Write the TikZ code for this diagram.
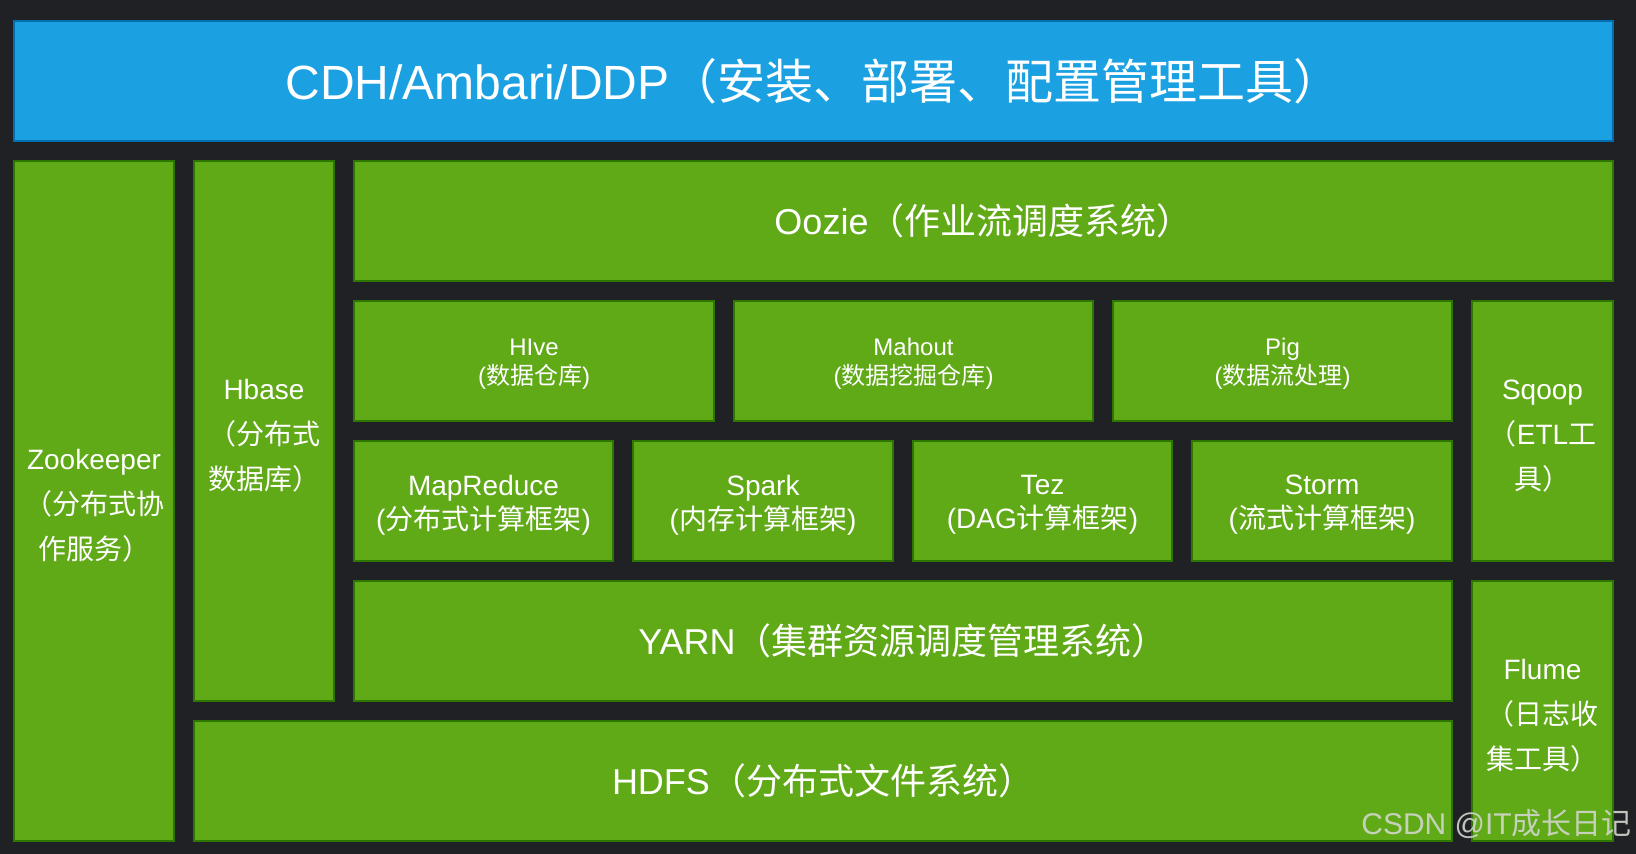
\documentclass[tikz,border=0pt]{standalone}
\usepackage{fontspec}
\setmainfont{Liberation Sans}
\newfontfamily\cjk{Noto Sans CJK SC}
\definecolor{bg}{HTML}{202124}
\definecolor{gfill}{HTML}{60A917}
\definecolor{gline}{HTML}{2D7600}
\definecolor{bfill}{HTML}{1BA1E2}
\definecolor{bline}{HTML}{006EAF}
\definecolor{wmark}{HTML}{D2D6CC}
\begin{document}
\begin{tikzpicture}[x=1pt,y=-1pt,
  blk/.style={draw=gline, fill=gfill, line width=2pt, text=white, inner sep=0pt, align=center},
  topblk/.style={blk, draw=bline, fill=bfill},
  txt/.style={text=white, inner sep=0pt, align=center},
  bigtxt/.style={font=\fontsize{36}{43}\selectfont},
  talltxt/.style={txt, font=\fontsize{28}{45}\selectfont},
  midtxt/.style={txt, font=\fontsize{28}{34}\selectfont},
  smalltxt/.style={txt, font=\fontsize{24}{29}\selectfont}]
\useasboundingbox (0,0) rectangle (1636,854);
\fill[bg] (0,0) rectangle (1636,854);

\node[topblk, font=\fontsize{48}{56}\selectfont, minimum width=1599pt, minimum height=120pt] (top) at (813.5,81)
  {CDH/Ambari/DDP{\cjk （安装、部署、配置管理工具）}};

\node[blk, minimum width=160pt, minimum height=680pt] (zk) at (94,501) {};
\node[talltxt] (zkt) at ([yshift=-5pt]zk.center)
  {Zookeeper\\{\cjk （分布式协}\\{\cjk 作服务）}};
\node[blk, minimum width=140pt, minimum height=540pt] (hb) at (264,431) {};
\node[talltxt] (hbt) at ([yshift=-5pt]hb.center)
  {Hbase\\{\cjk （分布式}\\{\cjk 数据库）}};
\node[blk, bigtxt, minimum width=1259pt, minimum height=120pt] (oozie) at (983.5,221)
  {Oozie{\cjk （作业流调度系统）}};

\node[blk, minimum width=360pt, minimum height=120pt] (hive) at (534,361) {};
\node[smalltxt] (hivet) at ([yshift=-3pt]hive.center) {HIve\\({\cjk 数据仓库})};
\node[blk, minimum width=359pt, minimum height=120pt] (mahout) at (913.5,361) {};
\node[smalltxt] (mahoutt) at ([yshift=-3pt]mahout.center) {Mahout\\({\cjk 数据挖掘仓库})};
\node[blk, minimum width=339pt, minimum height=120pt] (pig) at (1282.5,361) {};
\node[smalltxt] (pigt) at ([yshift=-3pt]pig.center) {Pig\\({\cjk 数据流处理})};
\node[blk, minimum width=141pt, minimum height=260pt] (sqoop) at (1542.5,431) {};
\node[talltxt] (sqoopt) at ([yshift=-5pt]sqoop.center)
  {Sqoop\\{\cjk （}ETL{\cjk 工}\\{\cjk 具）}};

\node[blk, minimum width=259pt, minimum height=120pt] (mr) at (483.5,501) {};
\node[midtxt] (mrt) at ([yshift=-4pt]mr.center) {MapReduce\\({\cjk 分布式计算框架})};
\node[blk, minimum width=260pt, minimum height=120pt] (spark) at (763,501) {};
\node[midtxt] (sparkt) at ([yshift=-4pt]spark.center) {Spark\\({\cjk 内存计算框架})};
\node[blk, minimum width=259pt, minimum height=120pt] (tez) at (1042.5,501) {};
\node[midtxt] (tezt) at ([yshift=-4pt]tez.center) {Tez\\(DAG{\cjk 计算框架})};
\node[blk, minimum width=260pt, minimum height=120pt] (storm) at (1322,501) {};
\node[midtxt] (stormt) at ([yshift=-4pt]storm.center) {Storm\\({\cjk 流式计算框架})};

\node[blk, bigtxt, minimum width=1098pt, minimum height=120pt] (yarn) at (903,641)
  {YARN{\cjk （集群资源调度管理系统）}};
\node[blk, minimum width=141pt, minimum height=260pt] (flume) at (1542.5,711) {};
\node[talltxt] (flumet) at ([yshift=-5pt]flume.center)
  {Flume\\{\cjk （日志收}\\{\cjk 集工具）}};
\node[blk, bigtxt, minimum width=1258pt, minimum height=120pt] (hdfs) at (823,781)
  {HDFS{\cjk （分布式文件系统）}};

\node[anchor=base east, inner sep=0pt, text=wmark, text opacity=0.9, font=\fontsize{30}{36}\selectfont] (wm) at (1632,834)
  {CSDN @IT{\cjk 成长日记}};
\end{tikzpicture}
\end{document}
